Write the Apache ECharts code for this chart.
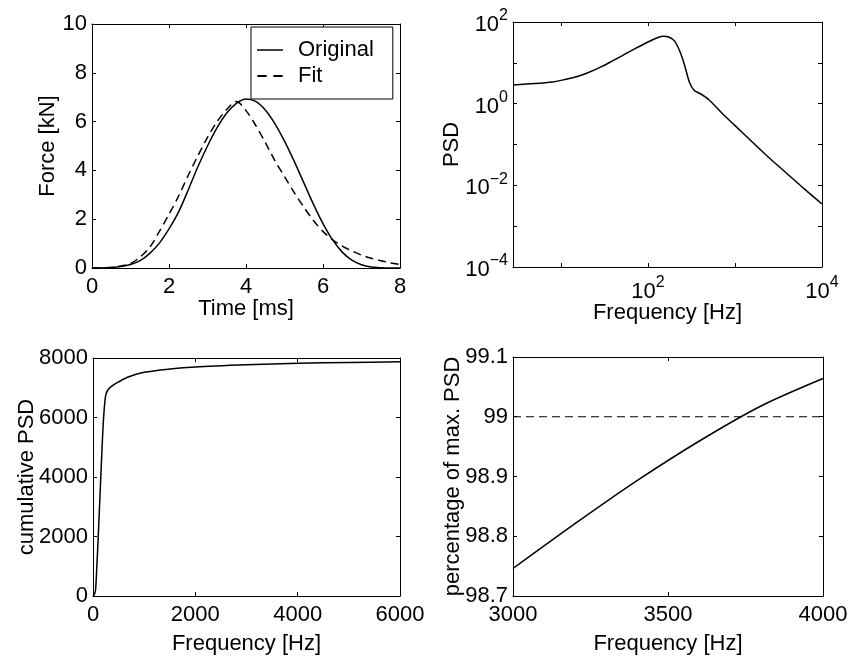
<!DOCTYPE html>
<html>
<head>
<meta charset="utf-8">
<script src="https://cdn.jsdelivr.net/npm/echarts@6/dist/echarts.min.js"></script>
<style>
  html, body { margin: 0; padding: 0; background: #fff; }
  #chart { width: 851px; height: 656px; }
</style>
</head>
<body>
<div id="chart"></div>
<script>
// top left: force pulse, original vs fit
var timeMs = [0, 0.25, 0.5, 0.75, 1.0, 1.25, 1.5, 1.75, 2.0, 2.25, 2.5, 2.75, 3.0, 3.25, 3.5, 3.75, 4.0,
  4.25, 4.5, 4.75, 5.0, 5.25, 5.5, 5.75, 6.0, 6.25, 6.5, 6.75, 7.0, 7.25, 7.5, 7.75, 8.0];
var forceOriginal = [0, 0, 0.02, 0.06, 0.14, 0.3, 0.6, 1.02, 1.6, 2.3, 3.2, 4.15, 5.0, 5.75, 6.35, 6.75, 6.93,
  6.83, 6.48, 5.92, 5.2, 4.38, 3.5, 2.62, 1.82, 1.15, 0.65, 0.32, 0.13, 0.04, 0.01, 0, 0];
var forceFit = [0, 0, 0.02, 0.08, 0.18, 0.45, 0.85, 1.5, 2.2, 2.95, 3.8, 4.6, 5.35, 6.0, 6.5, 6.82, 6.45,
  5.85, 5.15, 4.4, 3.75, 3.1, 2.5, 1.95, 1.5, 1.15, 0.9, 0.7, 0.53, 0.4, 0.3, 0.21, 0.14];

// top right: PSD on log-log axes
var psdFreq = [2.8, 5, 8, 10, 15, 20, 30, 40, 50, 70, 100, 130, 150, 170, 200, 230, 260, 300, 340, 400,
  500, 700, 1000, 1600, 2500, 4000, 6300, 10000];
var psdValue = [2.86, 3.1, 3.4, 3.72, 4.57, 5.62, 8.3, 11.5, 14.8, 21.9, 32.4, 41.7, 45, 43.5, 35, 20, 9.5, 3.3, 2.1, 1.75,
  1.25, 0.6, 0.29, 0.112, 0.046, 0.019, 0.0081, 0.0035];

// bottom left: cumulative PSD
var cumFreq = [0, 25, 50, 75, 100, 125, 150, 175, 200, 225, 250, 300, 400, 500, 700, 1000, 1500, 2000, 3000, 4000, 5000, 6000];
var cumValue = [0, 40, 200, 1000, 1900, 2900, 3900, 4900, 5800, 6400, 6750, 6950, 7100, 7200, 7370, 7520, 7630, 7700, 7770, 7820, 7850, 7870];

// bottom right: percentage of max PSD, zoomed
var pctFreq = [3000, 3200, 3400, 3600, 3800, 4000];
var pctValue = [98.746, 98.821, 98.893, 98.959, 99.018, 99.064];
var pctLevel = 99;

var FONT = '"Liberation Sans", Arial, Helvetica, sans-serif';

function zip(xs, ys) {
  return xs.map(function (x, i) { return [x, ys[i]]; });
}

var supRich = {
  b: { fontSize: 22, fontFamily: FONT, color: '#000', lineHeight: 28, verticalAlign: 'bottom' },
  s: { fontSize: 16, fontFamily: FONT, color: '#000', lineHeight: 16, verticalAlign: 'top' }
};

function powLabel(v, keep) {
  var e = Math.log10(v);
  var r = Math.round(e);
  if (Math.abs(e - r) > 1e-6 || !keep(r)) return '';
  return '{b|10}{s|' + (r < 0 ? '\u2212' + (-r) : r) + '}';
}

function plainNum(v) {
  return String(Math.round(v * 1000) / 1000);
}

function axis(grid, pos, type, min, max, interval, name, nameGap, labelMargin, formatter) {
  var main = pos === 'bottom' || pos === 'left';
  var a = {
    gridIndex: grid,
    type: type,
    position: pos,
    min: min,
    max: max,
    axisLine: { show: true, onZero: false, lineStyle: { color: '#000', width: 1 } },
    axisTick: { show: true, inside: true, length: 4, lineStyle: { color: '#000', width: 1 } },
    axisLabel: { show: main, color: '#000', fontSize: 22, fontFamily: FONT, margin: labelMargin, formatter: plainNum },
    splitLine: { show: false },
    name: main ? name : '',
    nameLocation: 'middle',
    nameGap: nameGap,
    nameMoveOverlap: false,
    nameTextStyle: { color: '#000', fontSize: 22, fontFamily: FONT }
  };
  if (interval) a.interval = interval;
  if (type === 'log') a.logBase = 10;
  if (formatter) {
    a.axisLabel.formatter = formatter;
    a.axisLabel.rich = supRich;
  }
  return a;
}

var xLogFmt = function (v) { return powLabel(v, function (r) { return r === 2 || r === 4; }); };
var yLogFmt = function (v) { return powLabel(v, function (r) { return r % 2 === 0; }); };

var chart = echarts.init(document.getElementById('chart'), null, { renderer: 'canvas' });

var lineStyle = { color: '#000', width: 1.5 };

var option = {
  animation: false,
  backgroundColor: '#fff',
  grid: [
    { left: 92, top: 24, width: 308, height: 244 },
    { left: 513, top: 22, width: 309, height: 245 },
    { left: 93, top: 358, width: 307, height: 243 },
    { left: 513, top: 357, width: 310, height: 241 }
  ],
  xAxis: [
    axis(0, 'bottom', 'value', 0, 8, 2, 'Time [ms]', 30, 8),
    axis(1, 'bottom', 'log', 2.8, 10000, null, 'Frequency [Hz]', 35, 8, xLogFmt),
    axis(2, 'bottom', 'value', 0, 6000, 2000, 'Frequency [Hz]', 37, 8),
    axis(3, 'bottom', 'value', 3000, 4000, 500, 'Frequency [Hz]', 37, 8),
    axis(0, 'top', 'value', 0, 8, 2),
    axis(1, 'top', 'log', 2.8, 10000, null),
    axis(2, 'top', 'value', 0, 6000, 2000),
    axis(3, 'top', 'value', 3000, 4000, 500)
  ],
  yAxis: [
    axis(0, 'left', 'value', 0, 10, 2, 'Force [kN]', 33, 5),
    axis(1, 'left', 'log', 0.0001, 100, null, 'PSD', 50, 5, yLogFmt),
    axis(2, 'left', 'value', 0, 8000, 2000, 'cumulative PSD', 55, 5),
    axis(3, 'left', 'value', 98.7, 99.1, 0.1, 'percentage of max. PSD', 49, 5),
    axis(0, 'right', 'value', 0, 10, 2),
    axis(1, 'right', 'log', 0.0001, 100, null),
    axis(2, 'right', 'value', 0, 8000, 2000),
    axis(3, 'right', 'value', 98.7, 99.1, 0.1)
  ],
  legend: {
    data: [
      { name: 'Original', icon: 'path://M0,0H26V1.5H0Z' },
      { name: 'Fit', icon: 'path://M0,0H7V1.5H0ZM12,0H19V1.5H12Z' }
    ],
    orient: 'vertical',
    left: 251,
    top: 27,
    padding: [12, 19, 12, 6],
    itemWidth: 26,
    itemHeight: 2,
    itemGap: 4,
    borderColor: '#000',
    borderWidth: 1,
    borderRadius: 0,
    backgroundColor: '#fff',
    itemStyle: { color: '#000', borderWidth: 0 },
    textStyle: { fontSize: 22, fontFamily: FONT, color: '#000', padding: [0, 0, 0, 10], lineHeight: 22 }
  },
  series: [
    {
      name: 'Original', type: 'line', xAxisIndex: 0, yAxisIndex: 0,
      data: zip(timeMs, forceOriginal), smooth: 0.3, showSymbol: false, symbol: 'none',
      lineStyle: lineStyle, itemStyle: { color: '#000' }
    },
    {
      name: 'Fit', type: 'line', xAxisIndex: 0, yAxisIndex: 0,
      data: zip(timeMs, forceFit), smooth: 0.3, showSymbol: false, symbol: 'none',
      lineStyle: { color: '#000', width: 1.5, type: [8, 5] }, itemStyle: { color: '#000' }
    },
    {
      name: 'PSD', type: 'line', xAxisIndex: 1, yAxisIndex: 1,
      data: zip(psdFreq, psdValue), smooth: 0.3, showSymbol: false, symbol: 'none',
      lineStyle: lineStyle
    },
    {
      name: 'cumulative', type: 'line', xAxisIndex: 2, yAxisIndex: 2,
      data: zip(cumFreq, cumValue), smooth: 0.3, showSymbol: false, symbol: 'none',
      lineStyle: lineStyle
    },
    {
      name: 'percentage', type: 'line', xAxisIndex: 3, yAxisIndex: 3,
      data: zip(pctFreq, pctValue), smooth: 0.3, showSymbol: false, symbol: 'none',
      lineStyle: lineStyle
    },
    {
      name: 'level', type: 'line', xAxisIndex: 3, yAxisIndex: 3,
      data: [[3000, pctLevel], [4000, pctLevel]], showSymbol: false, symbol: 'none',
      lineStyle: { color: '#000', width: 1.2, type: [8, 5] }
    }
  ]
};

chart.setOption(option);
</script>
</body>
</html>
